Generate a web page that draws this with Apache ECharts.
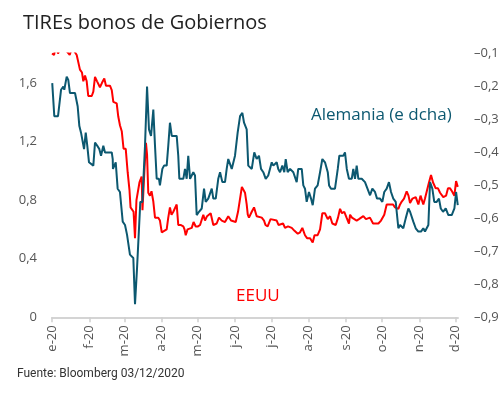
<!DOCTYPE html>
<html lang="es">
<head>
    <meta charset="UTF-8">
    <title>TIREs bonos de Gobiernos</title>
    <script src="https://cdn.jsdelivr.net/npm/echarts@6/dist/echarts.min.js"></script>
    <style>
        html, body { margin: 0; padding: 0; background: #fff; }
        #chart { width: 503px; height: 396px; }
    </style>
</head>
<body>
<div id="chart"></div>
<script type="application/javascript">
    // dias desde 1 de enero de 2020
    var monthStarts = [0, 31, 60, 91, 121, 152, 182, 213, 244, 274, 305, 335];
    var monthLabels = ['e-20', 'f-20', 'm-20', 'a-20', 'm-20', 'j-20', 'j-20', 'a-20', 's-20', 'o-20', 'n-20', 'd-20'];

    // EEUU 10a (eje izq.)
    var eeuuDays = [0, 1.7, 3.3, 5, 7.5, 10.8, 14.7, 16.6, 20.5, 23.2, 24.9, 26, 27.4, 28.8, 30.1, 33, 34.3, 35.7, 37.4, 39.8,
        41.5, 43.4, 44.8, 48.1, 49.6, 50.9, 53.7, 55, 56.4, 57.9, 59.4, 61.2, 62.8, 64.3, 65.2, 66.7, 67.7, 68.9, 70.1, 71.1,
        72.6, 74.4, 75.1, 76.7, 78, 78.9, 79.9, 81.3, 82.6, 84.1, 85.5, 88.2, 89.6, 91.1, 92.6, 95.2, 96.5, 97.9, 99.2, 100.7,
        102.1, 103.5, 104.8, 106.7, 109, 110, 111, 112.5, 116, 117.5, 119.3, 121.2, 122.9, 125.6, 127, 128.7, 129.7, 131.7, 133.9, 136.7,
        138.6, 140.9, 143.6, 146.3, 148.6, 150.2, 152.5, 154.4, 156.1, 157.6, 158.8, 160.2, 161.6, 162.5, 163.5, 165.8, 167.7, 169.9, 171.4, 174.1,
        176, 177.2, 179, 181.4, 186.5, 188, 189.3, 191.8, 193.4, 195.9, 199, 201.3, 204, 205.9, 207.8, 210, 211.7, 214.2, 216.4, 217.9,
        220.5, 222.5, 224.4, 226.6, 228.9, 230.8, 232.7, 235.5, 237.4, 239.1, 240.7, 242.6, 244.5, 246.5, 247.4, 249, 252.9, 254.8, 258.4, 260.6,
        263.9, 266.5, 270.9, 273.1, 275.8, 277.8, 280.6, 283.1, 284.7, 287.5, 288.9, 290.3, 292.2, 294.4, 295.9, 297.2, 299.2, 301.9, 304.1, 305.9,
        308.2, 309.6, 311, 312.9, 314.6, 316.3, 318.5, 320.4, 322.1, 324.8, 327.1, 328.7, 330.4, 332, 334, 335.4, 336.8];
    var eeuuVals = [1.80, 1.79, 1.86, 1.80, 1.85, 1.83, 1.79, 1.84, 1.79, 1.69, 1.67, 1.61, 1.65, 1.61, 1.51, 1.51, 1.54, 1.64, 1.61, 1.57,
        1.60, 1.63, 1.58, 1.58, 1.55, 1.47, 1.46, 1.37, 1.31, 1.27, 1.15, 1.15, 0.99, 0.87, 0.75, 0.75, 0.72, 0.54, 0.80, 0.81,
        0.92, 0.96, 0.73, 1.00, 1.19, 1.11, 0.85, 0.83, 0.86, 0.79, 0.68, 0.68, 0.66, 0.58, 0.59, 0.60, 0.68, 0.75, 0.70, 0.72,
        0.71, 0.77, 0.63, 0.63, 0.62, 0.60, 0.56, 0.60, 0.61, 0.65, 0.62, 0.62, 0.63, 0.70, 0.66, 0.69, 0.70, 0.71, 0.63, 0.64,
        0.68, 0.66, 0.65, 0.69, 0.66, 0.65, 0.65, 0.72, 0.81, 0.89, 0.88, 0.85, 0.77, 0.70, 0.68, 0.72, 0.75, 0.69, 0.70, 0.68,
        0.66, 0.63, 0.62, 0.67, 0.66, 0.63, 0.62, 0.64, 0.61, 0.62, 0.61, 0.59, 0.57, 0.58, 0.61, 0.56, 0.54, 0.54, 0.51, 0.56,
        0.56, 0.60, 0.71, 0.71, 0.67, 0.69, 0.64, 0.63, 0.68, 0.74, 0.71, 0.72, 0.68, 0.64, 0.70, 0.68, 0.66, 0.67, 0.69, 0.67,
        0.68, 0.64, 0.64, 0.66, 0.70, 0.77, 0.77, 0.77, 0.75, 0.74, 0.77, 0.79, 0.81, 0.86, 0.83, 0.78, 0.81, 0.82, 0.77, 0.83,
        0.77, 0.81, 0.82, 0.92, 0.97, 0.92, 0.88, 0.88, 0.85, 0.82, 0.83, 0.88, 0.88, 0.86, 0.83, 0.93, 0.89];

    // Alemania 10a (eje dcho.)
    var deDays = [0.2, 1.9, 5, 5.8, 7.5, 9.4, 10.2, 12.2, 13.5, 14.9, 19.1, 21.3, 22.7, 24.1, 25.2, 26.6, 28, 29.3, 30.7, 34.3,
        35.7, 37.6, 39.3, 40.7, 42.6, 44, 49.6, 50.4, 50.6, 52.9, 54.5, 56.4, 58.7, 60.6, 62.3, 64.7, 67.5, 68.9, 70.6, 71.4,
        73.3, 75, 77.2, 78.9, 80.5, 82.2, 84.1, 85.5, 86.9, 88.8, 89.6, 91.6, 93, 95.2, 96.5, 97.9, 99.4, 103.5, 104.8, 105.7,
        109, 110.4, 111.8, 113.1, 114.6, 117.3, 118.7, 120.1, 122, 124.3, 126.2, 127.6, 129.7, 132.6, 133.9, 135.9, 138, 139.5, 141.4, 143.6,
        145, 146.3, 147.8, 149.2, 150.5, 151.9, 154.1, 156.1, 158, 159.4, 161.6, 162.9, 165.8, 167.9, 169.9, 171.8, 173.5, 175.4, 177.4, 179.5,
        182.4, 183.7, 186.5, 187.8, 189.3, 191.2, 192.8, 194, 195.6, 197.6, 200.3, 201.7, 203.1, 204.4, 207.3, 208.6, 210, 211.4, 213.3, 215,
        216.4, 218.3, 220.5, 222.5, 224.4, 226.6, 228.9, 230, 231.6, 234.9, 237.2, 238.5, 241.8, 243.2, 244.7, 246.5, 248.8, 250.1, 251.5, 252.9,
        254.3, 257.1, 259.8, 261.2, 264, 265.9, 268.1, 269.8, 272.3, 274.2, 275.8, 277.8, 279.7, 281.4, 283.3, 285.3, 287.5, 288.9, 291.6, 293.6,
        295.8, 297.2, 299.9, 301.9, 304.1, 306.3, 308.2, 309.6, 312.4, 313.8, 315.7, 317.3, 319.3, 321.2, 322.7, 324.6, 326.8, 329, 331.8, 334,
        335.4, 336.8];
    var deVals = [-0.19, -0.29, -0.29, -0.29, -0.21, -0.20, -0.21, -0.17, -0.18, -0.22, -0.22, -0.26, -0.32, -0.34, -0.34, -0.39, -0.34, -0.38, -0.43, -0.44,
        -0.37, -0.38, -0.39, -0.41, -0.38, -0.40, -0.40, -0.42, -0.45, -0.43, -0.51, -0.52, -0.61, -0.62, -0.65, -0.71, -0.72, -0.86, -0.75, -0.75,
        -0.55, -0.55, -0.38, -0.20, -0.33, -0.35, -0.27, -0.38, -0.48, -0.48, -0.50, -0.45, -0.44, -0.44, -0.38, -0.31, -0.35, -0.35, -0.41, -0.48,
        -0.48, -0.45, -0.48, -0.41, -0.48, -0.46, -0.47, -0.59, -0.58, -0.57, -0.51, -0.55, -0.54, -0.51, -0.54, -0.54, -0.48, -0.46, -0.49, -0.49,
        -0.45, -0.42, -0.42, -0.45, -0.45, -0.41, -0.34, -0.29, -0.28, -0.31, -0.33, -0.44, -0.45, -0.40, -0.42, -0.41, -0.45, -0.46, -0.48, -0.47,
        -0.43, -0.44, -0.43, -0.45, -0.46, -0.44, -0.46, -0.42, -0.46, -0.45, -0.46, -0.46, -0.49, -0.45, -0.45, -0.50, -0.51, -0.55, -0.52, -0.54,
        -0.56, -0.51, -0.50, -0.46, -0.42, -0.43, -0.46, -0.50, -0.51, -0.51, -0.45, -0.41, -0.41, -0.40, -0.45, -0.48, -0.48, -0.45, -0.48, -0.44,
        -0.48, -0.48, -0.49, -0.49, -0.53, -0.51, -0.52, -0.54, -0.54, -0.55, -0.52, -0.51, -0.49, -0.52, -0.54, -0.55, -0.63, -0.62, -0.63, -0.60,
        -0.57, -0.58, -0.61, -0.63, -0.64, -0.64, -0.63, -0.64, -0.62, -0.49, -0.51, -0.55, -0.55, -0.54, -0.57, -0.58, -0.57, -0.59, -0.59, -0.57,
        -0.52, -0.56];

    var eeuu = eeuuDays.map(function (d, i) { return [d, eeuuVals[i]]; });
    var alemania = deDays.map(function (d, i) { return [d, deVals[i]]; });

    function fmtNum(v) {
        return String(Math.round(v * 10) / 10).replace('.', ',').replace('-', '–');
    }

    var chart = echarts.init(document.getElementById('chart'));
    var font = '"Open Sans", "Noto Sans", sans-serif';
    var option = {
        backgroundColor: '#fff',
        animation: false,
        title: {
            text: 'TIREs bonos de Gobiernos',
            left: 18,
            top: 8,
            textStyle: {fontFamily: font, fontSize: 20, fontWeight: 'normal', color: '#222'}
        },
        grid: {left: 52, right: 45, top: 53.5, bottom: 78.7},
        xAxis: {
            type: 'value',
            min: 0,
            max: 337,
            axisLine: {lineStyle: {color: '#d4d4d4', width: 2}},
            axisTick: {
                length: 5,
                lineStyle: {color: '#d0d0d0', width: 1.5},
                customValues: monthStarts
            },
            splitLine: {show: false},
            axisLabel: {
                rotate: 90,
                color: '#555',
                fontFamily: font,
                fontSize: 13,
                margin: 8,
                customValues: monthStarts,
                formatter: function (v) {
                    var i = monthStarts.indexOf(Math.round(v));
                    return i >= 0 ? monthLabels[i] : '';
                }
            }
        },
        yAxis: [{
            type: 'value',
            min: 0,
            max: 1.8,
            interval: 0.4,
            axisLine: {show: false},
            axisTick: {show: false},
            splitLine: {show: false},
            axisLabel: {
                color: '#555',
                fontFamily: font,
                fontSize: 13,
                margin: 15,
                formatter: function (v) { return v > 1.7 ? '' : fmtNum(v); }
            }
        }, {
            type: 'value',
            min: -0.9,
            max: -0.1,
            interval: 0.1,
            axisLine: {show: false},
            axisTick: {show: false},
            splitLine: {show: false},
            axisLabel: {
                color: '#555',
                fontFamily: font,
                fontSize: 13,
                margin: 16,
                formatter: fmtNum
            }
        }],
        series: [{
            name: 'EEUU',
            type: 'line',
            yAxisIndex: 0,
            data: eeuu,
            symbol: 'none',
            clip: true,
            lineStyle: {color: '#ff0000', width: 2},
            z: 2
        }, {
            name: 'Alemania (e dcha)',
            type: 'line',
            yAxisIndex: 1,
            data: alemania,
            symbol: 'none',
            lineStyle: {color: '#0c5870', width: 2},
            z: 3
        }],
        graphic: [{
            type: 'text',
            left: 311,
            top: 107,
            style: {text: 'Alemania (e dcha)', fill: '#0c5870', font: '17px ' + font}
        }, {
            type: 'text',
            left: 236,
            top: 288,
            style: {text: 'EEUU', fill: '#ff0000', font: '17px ' + font}
        }, {
            type: 'text',
            left: 17,
            top: 368,
            style: {text: 'Fuente: Bloomberg 03/12/2020', fill: '#333', font: '12px Roboto, sans-serif'}
        }]
    };
    chart.setOption(option);
</script>
</body>
</html>
